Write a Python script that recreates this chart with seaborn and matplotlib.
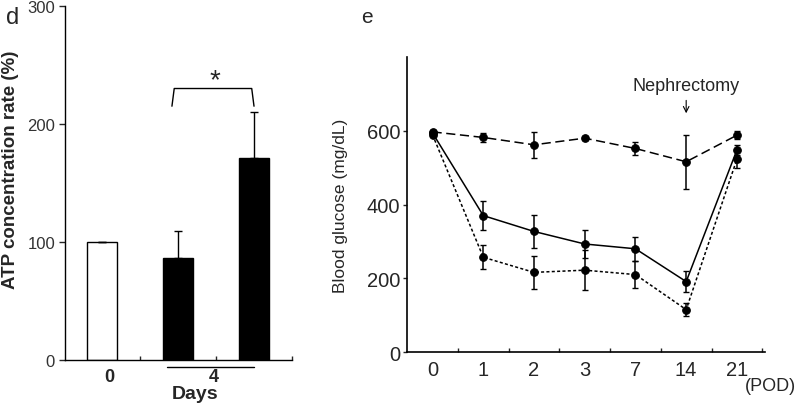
import numpy as np
import pandas as pd
import matplotlib
matplotlib.use("Agg")
import matplotlib.pyplot as plt
import seaborn as sns

# panel d: ATP concentration
atp_groups = ["0", "4a", "4b"]
atp_values = [100, 86, 171]
atp_err_up = [0, 23, 39]
atp_colors = ["white", "black", "black"]

# panel e: blood glucose
pod_labels = ["0", "1", "2", "3", "7", "14", "21"]
glu_dashed = [597, 582, 562, 580, 552, 516, 588]
glu_dashed_err = [4, 13, 35, 5, 17, 73, 11]
glu_solid = [594, 370, 327, 293, 280, 191, 548]
glu_solid_err = [4, 39, 45, 38, 32, 28, 13]
glu_dotted = [589, 257, 216, 222, 210, 115, 523]
glu_dotted_err = [4, 32, 45, 55, 36, 17, 25]

sns.set_style("white")
plt.rcParams["font.family"] = ["Liberation Sans", "DejaVu Sans"]

fig = plt.figure(figsize=(8, 4.06), dpi=100)

# ---- panel d ----
ax1 = fig.add_axes([0.081, 0.111, 0.284, 0.872])
df_atp = pd.DataFrame({"group": atp_groups, "value": atp_values})
sns.barplot(data=df_atp, x="group", y="value", hue="group", palette=atp_colors,
            edgecolor="black", linewidth=1, width=0.395, legend=False, ax=ax1)
ax1.errorbar(range(3), atp_values, yerr=[[0, 0, 0], atp_err_up], fmt="none",
             ecolor="black", elinewidth=1, capsize=3, capthick=1)
ax1.set_xlim(-0.49, 2.5)
ax1.set_ylim(0, 300)
ax1.set_yticks([0, 100, 200, 300])
ax1.tick_params(axis="y", direction="out", length=4, width=1, labelsize=12,
                labelcolor="#333333", left=True, pad=3)
ax1.set_xticks([0.5, 1.5, 2.5])
ax1.set_xticklabels([])
ax1.tick_params(axis="x", direction="in", length=3, width=1, bottom=True)
for s in ["top", "right"]:
    ax1.spines[s].set_visible(False)
for s in ["left", "bottom"]:
    ax1.spines[s].set_color("black")
    ax1.spines[s].set_linewidth(1)
ax1.set_xlabel("")
ax1.set_ylabel("ATP concentration rate (%)", fontsize=13.5, fontweight="bold")
ax1.yaxis.set_label_coords(-0.2, 0.54)
xt = ax1.get_xaxis_transform()
ax1.text(0.1, -0.048, "0", transform=xt, ha="center", va="center",
         fontsize=13, fontweight="bold")
ax1.text(1.47, -0.048, "4", transform=xt, ha="center", va="center",
         fontsize=13, fontweight="bold")
ax1.plot([0.86, 2.0], [-0.02, -0.02], transform=xt, color="black", lw=1, clip_on=False)
ax1.text(1.23, -0.096, "Days", transform=xt, ha="center", va="center",
         fontsize=14, fontweight="bold")
# significance bracket
ax1.plot([0.92, 0.95, 1.97, 2.0], [215, 230, 230, 215], color="black", lw=1)
ax1.text(1.48, 226, "*", ha="center", va="bottom", fontsize=20)
fig.text(0.008, 0.955, "d", fontsize=17, va="center")

# ---- panel e ----
ax2 = fig.add_axes([0.509, 0.1305, 0.447, 0.7265])
pos = np.arange(len(pod_labels))
styles = [(glu_dashed, glu_dashed_err, (0, (6, 3))),
          (glu_solid, glu_solid_err, "-"),
          (glu_dotted, glu_dotted_err, (0, (2, 1.5)))]
for vals, errs, ls in styles:
    sns.lineplot(x=pos, y=vals, ax=ax2, color="black", lw=1.1, linestyle=ls,
                 marker="o", markersize=5.5, markeredgecolor="black")
    ax2.errorbar(pos, vals, yerr=errs, fmt="none", ecolor="black",
                 elinewidth=1.1, capsize=2.5, capthick=1)
ax2.set_xlim(-0.5, 6.55)
ax2.set_ylim(0, 800)
ax2.set_yticks([0, 200, 400, 600])
ax2.tick_params(axis="y", direction="out", length=3, width=1, labelsize=14.5, left=True, pad=2)
ax2.set_xticks(pos)
ax2.set_xticklabels(pod_labels)
ax2.tick_params(axis="x", which="major", length=0, labelsize=14.5, pad=6)
ax2.set_xticks(pos + 0.5, minor=True)
ax2.tick_params(axis="x", which="minor", direction="in", length=3, width=1, bottom=True)
for s in ["top", "right"]:
    ax2.spines[s].set_visible(False)
for s in ["left", "bottom"]:
    ax2.spines[s].set_color("black")
    ax2.spines[s].set_linewidth(1.2)
ax2.set_ylabel("Blood glucose (mg/dL)", fontsize=12.5)
ax2.yaxis.set_label_coords(-0.165, 0.5)
ax2.text(5, 723, "Nephrectomy", ha="center", va="center", fontsize=13)
ax2.annotate("", xy=(5, 640), xytext=(5, 690),
             arrowprops=dict(arrowstyle="->", color="black", lw=0.8))
ax2.text(1.015, -0.115, "(POD)", transform=ax2.transAxes, ha="center", va="center", fontsize=13)
fig.text(0.452, 0.958, "e", fontsize=15, va="center")

fig.savefig("out.png", dpi=100)
